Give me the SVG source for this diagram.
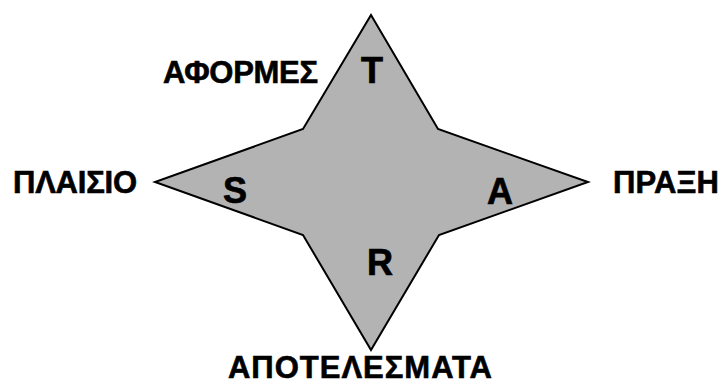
<svg xmlns="http://www.w3.org/2000/svg" width="725" height="385" viewBox="0 0 725 385">
<style>
.star{fill:#b3b3b3;stroke:#000;stroke-width:2;stroke-linejoin:miter}
.lbl{font-family:"Liberation Sans",Arial,sans-serif;font-weight:bold;font-size:31px;fill:#000;stroke:#000;stroke-width:0.6}
.big{font-family:"Liberation Sans",Arial,sans-serif;font-weight:bold;font-size:36px;fill:#000;stroke:#000;stroke-width:0.7;text-anchor:middle}
</style>
<rect width="725" height="385" fill="#fff"/>
<g id="star">
<polygon class="star" points="371,15 438,129 588,182 439,235 371,350 303,235 155,182 303,129"/>
</g>
<g id="letters">
<text class="big" x="372" y="83">T</text>
<text class="big" x="235" y="203">S</text>
<text class="big" x="500" y="204">A</text>
<text class="big" x="380" y="275">R</text>
</g>
<g id="labels">
<text class="lbl" x="163" y="83" textLength="155">ΑΦΟΡΜΕΣ</text>
<text class="lbl" x="13" y="193" textLength="124">ΠΛΑΙΣΙΟ</text>
<text class="lbl" x="613" y="193" textLength="106">ΠΡΑΞΗ</text>
<text class="lbl" x="228" y="378" textLength="264">ΑΠΟΤΕΛΕΣΜΑΤΑ</text>
</g>
</svg>
